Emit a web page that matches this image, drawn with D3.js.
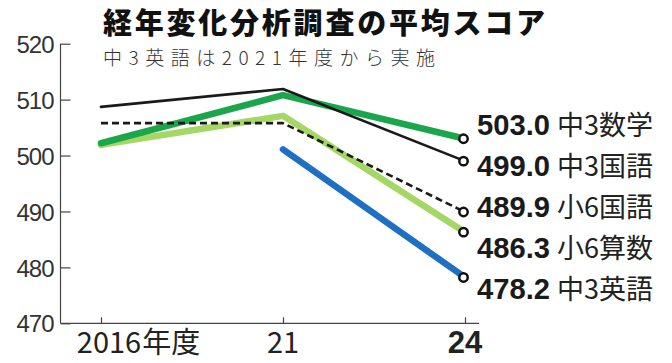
<!DOCTYPE html>
<html>
<head>
<meta charset="utf-8">
<script src="https://cdn.jsdelivr.net/npm/d3@7"></script>
<style>
  body { margin: 0; background: #fff; }
  svg { display: block; }
</style>
</head>
<body>
<script>
"use strict";
(function(){

    // data
    const years = ["2016", "2021", "2024"]
    const yearNumbers = ["2016", "21", "24"]
    const yearSuffix = ["年度", "", ""]
    const subjects = ["中3数学", "中3国語", "小6国語", "小6算数", "中3英語"]
    const math3 = [502.2, 510.8, 503.0]
    const japanese3 = [508.7, 511.9, 499.0]
    const japanese6 = [505.8, 505.8, 489.9]
    const math6 = [501.9, 507.1, 486.3]
    const english3 = [null, 501.1, 478.2]
    const yTicks = [470, 480, 490, 500, 510, 520]

    const title = "経年変化分析調査の平均スコア"
    const subtitle = "中3英語は2021年度から実施"

    const measurements = {
        width: 672,
        height: 363,
        axisX: 60.5,
        axisEnd: 479,
        top: 43.7,
        bottom: 323.3
    }

    // drawing order: thick colour lines first, thin black ones on top
    const series = [
        { name: "小6算数", values: math6, color: "#a5d764", width: 6.5, dash: null },
        { name: "中3英語", values: english3, color: "#1f6fc4", width: 6.5, dash: null },
        { name: "中3数学", values: math3, color: "#1ca64c", width: 6.5, dash: null },
        { name: "小6国語", values: japanese6, color: "#1a1a1a", width: 2.6, dash: "7,4" },
        { name: "中3国語", values: japanese3, color: "#1a1a1a", width: 2.6, dash: null }
    ]

    const svg = d3.select("body").append("svg")
        .attr("width", measurements.width)
        .attr("height", measurements.height)

    const scaleX = d3.scalePoint()
        .domain(years)
        .range([101, 465])

    const scaleY = d3.scaleLinear()
        .domain([470, 520])
        .range([measurements.bottom, measurements.top])

    // titles
    svg.append("text")
        .attr("x", 103)
        .attr("y", 34)
        .attr("textLength", 442)
        .attr("lengthAdjust", "spacing")
        .style("font-family", "'Noto Sans CJK JP'")
        .style("font-weight", 900)
        .style("font-size", "29px")
        .style("fill", "#111")
        .text(title)

    svg.append("text")
        .attr("x", 103)
        .attr("y", 64.5)
        .attr("textLength", 332)
        .attr("lengthAdjust", "spacing")
        .style("font-family", "'Noto Sans CJK JP'")
        .style("font-weight", 300)
        .style("font-size", "19px")
        .style("fill", "#333")
        .text(subtitle)

    // y axis
    const yAxis = d3.axisLeft(scaleY)
        .tickValues(yTicks)
        .tickSizeInner(-10)
        .tickSizeOuter(0)
        .tickPadding(7)

    const gy = svg.append("g")
        .attr("transform", "translate(" + measurements.axisX + ",0)")
        .call(yAxis)
    gy.select(".domain").remove()
    gy.selectAll("line").attr("stroke", "#444").attr("stroke-width", 1.2)
    gy.selectAll("text")
        .style("font-family", "'Liberation Sans'")
        .style("font-size", "24px")
        .style("letter-spacing", "-1px")
        .style("fill", "#333")
        .attr("dy", "0.36em")

    // x axis
    const xAxis = d3.axisBottom(scaleX)
        .tickSizeInner(-6)
        .tickSizeOuter(0)
        .tickFormat("")

    const gx = svg.append("g")
        .attr("transform", "translate(0," + measurements.bottom + ")")
        .call(xAxis)
    gx.select(".domain").remove()
    gx.selectAll("line").attr("stroke", "#444").attr("stroke-width", 1.2)

    svg.append("line")
        .attr("x1", measurements.axisX).attr("x2", measurements.axisX)
        .attr("y1", measurements.top).attr("y2", measurements.bottom)
        .attr("stroke", "#444").attr("stroke-width", 1.2)
    svg.append("line")
        .attr("x1", measurements.axisX).attr("x2", measurements.axisEnd)
        .attr("y1", measurements.bottom).attr("y2", measurements.bottom)
        .attr("stroke", "#444").attr("stroke-width", 1.2)

    years.forEach(function(yr, i) {
        const last = i === years.length - 1
        const num = svg.append("text")
            .attr("x", scaleX(yr) + (yearSuffix[i] ? 8 : 0))
            .attr("y", 353)
            .attr("text-anchor", "middle")
            .style("font-family", last ? "'Liberation Sans'" : "'Noto Sans CJK JP'")
            .style("font-weight", last ? 700 : 400)
            .style("font-size", last ? "31px" : "29px")
            .style("fill", "#222")
            .text(yearNumbers[i])
        if (yearSuffix[i]) {
            const box = num.node().getBBox()
            svg.append("text")
                .attr("x", box.x + box.width + 1)
                .attr("y", 353)
                .style("font-family", "'Noto Sans CJK JP'")
                .style("font-size", "29px")
                .style("fill", "#222")
                .text(yearSuffix[i])
        }
    })

    // lines
    const line = d3.line()
        .defined(function(d) { return d.v !== null })
        .x(function(d) { return scaleX(d.year) })
        .y(function(d) { return scaleY(d.v) })

    series.forEach(function(s) {
        const pts = years.map(function(yr, i) { return { year: yr, v: s.values[i] } })
        svg.append("path")
            .datum(pts)
            .attr("d", line)
            .attr("fill", "none")
            .attr("stroke", s.color)
            .attr("stroke-width", s.width)
            .attr("stroke-linejoin", "round")
            .attr("stroke-linecap", s.dash ? "butt" : "round")
            .attr("stroke-dasharray", s.dash)
    })

    // end points and labels
    const lastYear = years[years.length - 1]
    const endValues = subjects.map(function(name) {
        const s = series.find(function(d) { return d.name === name })
        return s.values[s.values.length - 1]
    })

    svg.selectAll(".endpoint")
        .data(endValues)
        .enter()
        .append("circle")
            .attr("cx", scaleX(lastYear) - 1.5)
            .attr("cy", function(d) { return scaleY(d) })
            .attr("r", 4.2)
            .attr("fill", "#fff")
            .attr("stroke", "#111")
            .attr("stroke-width", 2.5)

    function dodge(ys, gap) {
        const out = ys.slice()
        for (let k = 0; k < 200; k++) {
            for (let i = 1; i < out.length; i++) {
                const d = out[i] - out[i - 1]
                if (d < gap) {
                    const s = (gap - d) / 2
                    out[i - 1] -= s
                    out[i] += s
                }
            }
        }
        return out
    }

    const labelY = dodge(endValues.map(function(d) { return scaleY(d) }), 41)
        .map(function(y) { return y + 2 })

    svg.selectAll(".value")
        .data(endValues)
        .enter()
        .append("text")
            .attr("x", 477)
            .attr("y", function(d, i) { return labelY[i] + 10.8 })
            .attr("textLength", 73)
            .attr("lengthAdjust", "spacingAndGlyphs")
            .style("font-family", "'Liberation Sans'")
            .style("font-weight", 700)
            .style("font-size", "30px")
            .style("fill", "#1a1a1a")
            .text(function(d) { return d.toFixed(1) })

    svg.selectAll(".subject")
        .data(subjects)
        .enter()
        .append("text")
            .attr("x", 557)
            .attr("y", function(d, i) { return labelY[i] + 10.8 })
            .style("font-family", "'Noto Sans CJK JP'")
            .style("font-size", "27px")
            .style("fill", "#222")
            .text(function(d) { return d })
})()
</script>
</body>
</html>
